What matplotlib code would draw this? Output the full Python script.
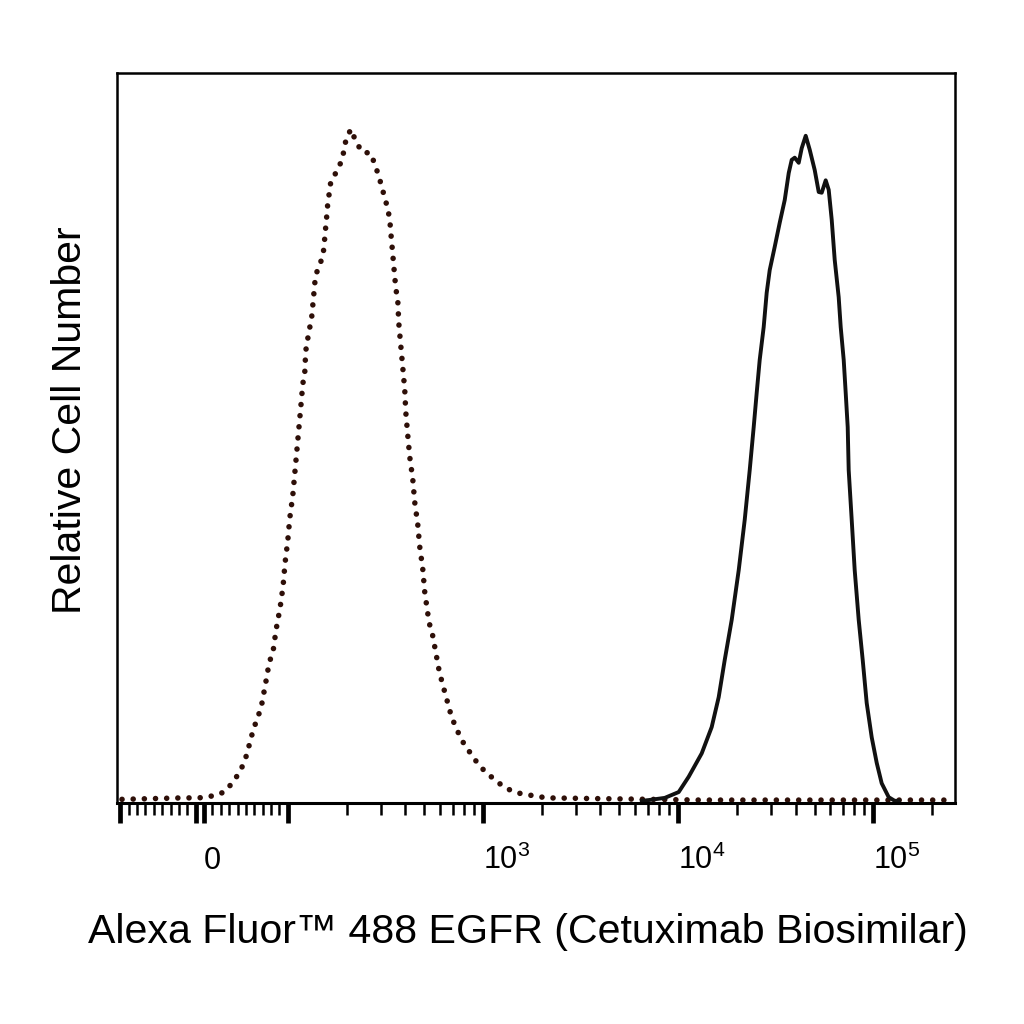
import numpy as np
import matplotlib
matplotlib.use("Agg")
import matplotlib.pyplot as plt
from matplotlib.ticker import FixedLocator, NullFormatter

plt.rcParams['font.family'] = ['Liberation Sans', 'DejaVu Sans']
plt.rcParams['mathtext.fontset'] = 'custom'
plt.rcParams['mathtext.rm'] = 'Liberation Sans'
plt.rcParams['mathtext.default'] = 'regular'

# isotype control (dotted), fluorescence vs relative count
ctrl_x = [-98, -26, -6, 12, 24, 33.5, 41.8, 47.8, 51.4, 55, 58.5, 63.3, 68.1,
          72.9, 75.3, 77.7, 82.4, 86, 90.8, 94.4, 96.8, 100, 102.4, 106.1,
          108.6, 111.2, 113.9, 116.6, 119.4, 122.2, 123.6, 126.6, 129.6,
          132.7, 135.9, 137.5, 140.8, 147.6, 152.9, 154.7, 156.5, 158.4,
          160.3, 164.1, 166.1, 176.2, 186.8, 193.6, 198.2, 210.2, 223.1,
          239.4, 266.2, 279.1, 292.6, 303.1, 314.1, 325.4, 333.2, 337.1,
          341.1, 345.1, 349.1, 353.4, 357.6, 366.1, 370.4, 379.3, 388.3,
          397.6, 402.3, 411.9, 421.7, 436.9, 447.3, 463.4, 474.5, 491.6,
          503.3, 521.4, 533.9, 553.1, 566.4, 579.9, 593.8, 615.1, 637.3,
          660.3, 683.9, 717.0, 760.5, 806.8, 876.3, 951.7, 1046, 1149, 1293,
          1490, 1717, 2123, 13210, 251000]
ctrl_y = [0.5, 0.7, 0.7, 1.0, 1.5, 2.7, 4.1, 5.5, 6.8, 8.4, 9.9, 11.5, 13.0,
          16.0, 17.5, 19.2, 20.7, 23.7, 26.7, 29.7, 32.9, 35.9, 39.0, 42.1,
          45.1, 48.1, 51.2, 54.2, 57.4, 58.9, 61.9, 63.6, 65.1, 66.6, 69.6,
          71.2, 72.7, 74.1, 75.8, 77.4, 78.9, 80.4, 82.1, 84.0, 85.1, 86.3,
          87.7, 89.2, 90.7, 92.3, 90.7, 89.2, 89.0, 87.5, 85.9, 84.4, 82.9,
          81.4, 79.9, 78.2, 76.7, 75.2, 73.6, 72.1, 70.5, 68.9, 65.8, 62.7,
          59.7, 56.6, 53.6, 50.4, 47.4, 44.4, 41.2, 38.2, 35.1, 32.1, 28.9,
          26.0, 24.4, 22.9, 21.4, 19.9, 18.4, 16.7, 15.2, 13.7, 12.2, 10.7,
          9.2, 7.9, 6.6, 5.2, 4.1, 3.2, 2.1, 1.4, 1.1, 0.7, 0.4, 0.4]

# EGFR stained (solid)
egfr_x = [6510, 7069, 8542, 10070, 11330, 13210, 14860, 16140, 17330, 18820,
          20440, 21940, 23270, 24390, 25270, 26180, 27440, 28430, 29460,
          31260, 33160, 35170, 36870, 38190, 39570, 41480, 42970, 45050,
          47220, 50100, 52520, 54410, 57030, 59090, 61220, 63420, 66470,
          68070, 70520, 72200, 73930, 74800, 77500, 80290, 84170, 88240,
          92500, 98130, 104100, 110400, 119900, 128700, 135000]
egfr_y = [0.3, 0.4, 0.7, 1.5, 3.6, 6.8, 10.4, 14.5, 19.6, 25.1, 31.9, 38.8,
          45.6, 51.5, 56.2, 60.7, 65.2, 69.9, 73.0, 76.2, 79.5, 82.6, 86.3,
          88.1, 88.4, 87.7, 89.7, 91.4, 89.5, 86.7, 83.7, 83.6, 85.3, 84.0,
          79.9, 74.4, 69.3, 65.2, 60.7, 56.2, 51.5, 45.6, 38.8, 31.9, 25.1,
          19.6, 13.7, 9.0, 5.5, 2.7, 0.8, 0.3, 0.3]

major_ticks = [-100, -10, 0, 100, 1e3, 1e4, 1e5]
major_labels = ['', '', '0', '', r'$10^{3}$', r'$10^{4}$', r'$10^{5}$']
lin_minor = [v for v in range(-90, 100, 10) if v not in (-10, 0)]
log_minor = [m * 10 ** e for e in (2, 3, 4, 5) for m in range(2, 10)]

fig = plt.figure(figsize=(10.24, 10.24), dpi=100)
ax = fig.add_axes([117 / 1024, 221 / 1024, 838 / 1024, 730 / 1024])

ax.plot(ctrl_x, ctrl_y, color='#2e0f08', lw=4.0,
        linestyle=(0, (0.01, 2.0)), dash_capstyle='round')
ax.plot(egfr_x, egfr_y, color='#111111', lw=2.8)

ax.set_xscale('symlog', linthresh=100, linscale=0.386)
ax.set_xlim(-104, 262144)
ax.set_ylim(0, 100)

ax.xaxis.set_major_locator(FixedLocator(major_ticks))
ax.set_xticklabels(major_labels)
ax.xaxis.set_minor_locator(FixedLocator(lin_minor + log_minor))
ax.xaxis.set_minor_formatter(NullFormatter())
ax.set_yticks([])

ax.tick_params(axis='x', which='major', length=14.4, width=3.4,
               labelsize=22, pad=33)
ax.tick_params(axis='x', which='minor', length=8.6, width=1.8)
for lab in ax.get_xticklabels():
    lab.set_ha('left')
    lab.set_va('baseline')

for s in ax.spines.values():
    s.set_linewidth(1.8)
ax.spines['bottom'].set_linewidth(2.2)

fig.text(528 / 1024, 1 - 943 / 1024,
         'Alexa Fluor\u2122 488 EGFR (Cetuximab Biosimilar)',
         ha='center', va='baseline', fontsize=29.6)
fig.text(70 / 1024, 1 - 420 / 1024, 'Relative Cell Number',
         rotation=90, ha='center', va='center', fontsize=29.5)

fig.savefig('out.png', dpi=100)
